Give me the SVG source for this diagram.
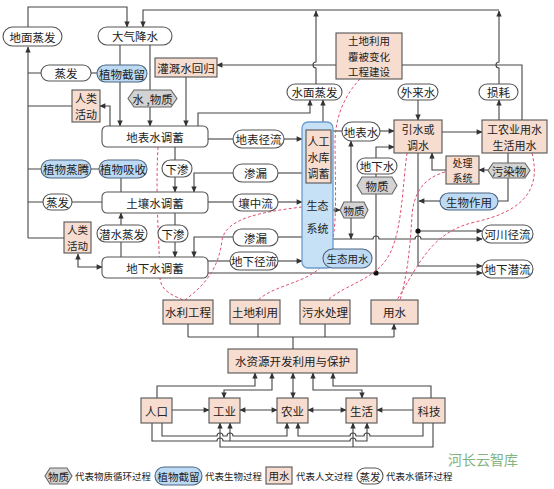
<svg xmlns="http://www.w3.org/2000/svg" width="554" height="489" viewBox="0 0 554 489">
<defs>
<marker id="a" viewBox="0 0 10 10" refX="9" refY="5" markerWidth="7" markerHeight="6" markerUnits="userSpaceOnUse" orient="auto-start-reverse"><path d="M0,0.5 L10,5 L0,9.5 z" fill="#333"/></marker>
<style>
.n{fill:#fff;stroke:#555;stroke-width:1.1}
.p{fill:#f7dcd0;stroke:#555;stroke-width:1.1}
.b{fill:#bcdaf3;stroke:#4d6580;stroke-width:1.1}
.g{fill:#d3d3d3;stroke:#666;stroke-width:1.1}
.c{fill:#c6e0f6;stroke:#6d9ccc;stroke-width:1.3}
text{font-family:"Noto Sans CJK SC","Noto Sans",sans-serif;font-size:11.5px;fill:#222;text-anchor:middle;dominant-baseline:central}
.m{font-size:11px}
.t{font-size:10.5px}
.u{font-size:10px}
.l{font-size:9.5px;text-anchor:start}
.k{font-size:10.5px}
#conn path{fill:none;stroke:#444;stroke-width:1.1}
#conn .e{marker-end:url(#a)}
#conn .s{marker-start:url(#a)}
#red path{fill:none;stroke:#e0506e;stroke-width:1;stroke-dasharray:3 2.2}
</style>
</defs>
<rect width="554" height="489" fill="#fff"/>
<g id="conn">
<path class="e" d="M28,27 V7 H127 V27"/>
<path class="e" d="M499,10 H143 V27"/>
<path class="e" d="M316,84 V68 A3,3 0 0 1 316,62 V11"/>
<path class="e" d="M499,84 V68 A3,3 0 0 1 499,62 V11"/>
<path class="e" d="M28,238 V47"/>
<path d="M28,73 H41 M28,106 H72 M28,169 H41 M28,202 H43 M28,238 H64"/>
<path d="M91,73 H97"/>
<path class="e" d="M120,45 V126"/>
<path class="e" d="M150,45 V126"/>
<path class="e" d="M186,77 V126"/>
<path class="e" d="M522,120 V65 H217"/>
<path class="e" d="M110,126 V106 H100"/>
<path class="e" d="M198,126 V113 H310 V100"/>
<path class="e" d="M323,122 V100"/>
<path d="M208,139 H233"/>
<path class="e" d="M284,139 H302"/>
<path class="e" d="M175,147 V192"/>
<path d="M302,173 H278"/>
<path class="e" d="M233,173 H194 V192"/>
<path d="M91,169 H99 M121,178 V192 M72,202 H102"/>
<path d="M208,202 H233"/>
<path class="e" d="M278,202 H302"/>
<path class="e" d="M175,213 V257"/>
<path class="e" d="M121,257 V213"/>
<path d="M302,237 H278"/>
<path class="e" d="M233,237 H194 V257"/>
<path class="e s" d="M78,254 V267 H102"/>
<path d="M208,261 H230"/>
<path class="e" d="M278,261 H302"/>
<path class="e" d="M208,273 H482"/>
<path class="e" d="M376,273 V147 H394"/>
<path d="M333,131 H342"/>
<path class="e" d="M380,131 H394"/>
<path class="e" d="M418,100 V120"/>
<path class="e" d="M442,132 H482"/>
<path class="e" d="M499,120 V100"/>
<path d="M508,153 V163"/>
<path class="e" d="M488,170 H479"/>
<path class="e" d="M446,170 H432 V153"/>
<path d="M508,178 V201 H498"/>
<path class="e" d="M440,201 H419"/>
<path class="e" d="M418,153 V266 H482"/>
<path class="e" d="M418,231 H482"/>
<path class="e" d="M333,239 H373 A3,3 0 0 1 379,239 H415 A3,3 0 0 1 421,239 H482"/>
<path class="e" d="M333,210 H340"/>
<path class="e" d="M351,202 V141"/>
<path class="e" d="M351,218 V239"/>
<path d="M293,349 V337 M188,337 H394"/>
<path class="e" d="M188,337 V324 M258,337 V324 M325,337 V324 M394,337 V324"/>
<path class="e" d="M157,398 V386 H255 V373"/>
<path class="e s" d="M272,373 V390 H224 V398"/>
<path class="e s" d="M293,373 V398"/>
<path class="e s" d="M313,373 V390 H362 V398"/>
<path class="e" d="M431,398 V386 H333 V373"/>
<path class="e" d="M172,410 H209"/>
<path class="e s" d="M240,410 H277"/>
<path class="e s" d="M308,410 H346"/>
<path class="e" d="M413,410 H377"/>
<path class="e" d="M162,423 V436 H217 A3,3 0 0 1 223,436 H227 A3,3 0 0 1 233,436 H287 V423"/>
<path class="e" d="M423,423 V436 H370 A3,3 0 0 0 364,436 H356 A3,3 0 0 0 350,436 H298 V423"/>
<path class="e" d="M152,423 V441 H217 A3,3 0 0 1 223,441 H350 A3,3 0 0 1 356,441 H367 V423"/>
<path class="e" d="M230,441 V423"/>
<path class="e" d="M433,423 V447 H220 V423"/>
<path class="e" d="M353,447 V423"/>
</g>
<g id="dots" fill="#111"><circle cx="376" cy="273" r="2.6"/><circle cx="418" cy="231" r="2.6"/></g>
<g id="red">
<path d="M158,147 C155,200 160,255 160,278 C161,292 175,296 183,300"/>
<path d="M302,207 C262,212 226,218 222,240 C219,268 205,285 185,300"/>
<path d="M360,79 C345,95 336,115 335,140 C335,200 340,250 320,268 C302,284 275,285 258,300"/>
<path d="M407,153 C402,190 402,238 386,260 C372,280 345,285 328,300"/>
<path d="M445,172 C424,178 414,192 412,215 C410,250 407,276 400,300"/>
<path d="M532,153 C542,192 520,212 475,222 C432,232 420,262 397,300"/>
</g>
<g id="n-dimianzhengfa"><rect class="n" x="3" y="27" width="59" height="19" rx="9.5"/><text x="32.5" y="36.5">地面蒸发</text></g>
<g id="n-daqijiangshui"><rect class="n" x="98" y="27" width="74" height="18" rx="9"/><text x="135" y="36">大气降水</text></g>
<g id="n-zhengfa1"><rect class="n" x="41" y="65" width="50" height="16" rx="8"/><text x="66" y="73">蒸发</text></g>
<g id="n-zhiwujieliu"><rect class="b" x="97" y="65" width="50" height="17" rx="8.5"/><text x="122" y="73.5">植物截留</text></g>
<g id="n-guangai"><rect class="p" x="155" y="58" width="62" height="19"/><text x="186" y="67.5">灌溉水回归</text></g>
<g id="n-renlei1"><rect class="p" x="72" y="90" width="28" height="32"/><text class="m" x="86" y="98">人类</text><text class="m" x="86" y="114">活动</text></g>
<g id="n-shuiwuzhi"><polygon class="g" points="134,90 171,90 177,98.5 171,107 134,107 128,98.5"/><text x="152.5" y="98.5">水 ,物质</text></g>
<g id="n-dibiaoshui"><rect class="n" x="102" y="126" width="106" height="21" rx="5"/><text x="155" y="136.5">地表水调蓄</text></g>
<g id="n-dibiaojingliu"><rect class="n" x="233" y="130" width="51" height="18" rx="9"/><text x="258.5" y="139">地表径流</text></g>
<g id="n-shengtai"><rect class="c" x="302" y="122" width="31" height="146" rx="6"/><text class="m" x="317.5" y="205" fill="#444">生态</text><text class="m" x="317.5" y="228" fill="#444">系统</text></g>
<g id="n-rengong"><rect class="p" x="306" y="130" width="25" height="53"/><text class="m" x="318.5" y="140.5">人工</text><text class="m" x="318.5" y="156.5">水库</text><text class="m" x="318.5" y="172.5">调蓄</text></g>
<g id="n-shengtaiyongshui"><rect class="b" x="323" y="249" width="49" height="19" rx="9.5"/><text x="347.5" y="258.5" class="k">生态用水</text></g>
<g id="n-shuimian"><rect class="n" x="287" y="84" width="55" height="16" rx="8"/><text x="314.5" y="92">水面蒸发</text></g>
<g id="n-tudi"><rect class="p" x="336" y="33" width="66" height="46"/><text class="t" x="369" y="40.7">土地利用</text><text class="t" x="369" y="56">覆被变化</text><text class="t" x="369" y="71.3">工程建设</text></g>
<g id="n-wailai"><rect class="n" x="398" y="84" width="40" height="16" rx="8"/><text x="418" y="92">外来水</text></g>
<g id="n-sunhao"><rect class="n" x="479" y="84" width="39" height="16" rx="8"/><text x="498.5" y="92">损耗</text></g>
<g id="n-dibiaoshui2"><rect class="n" x="342" y="122" width="38" height="19" rx="9.5"/><text x="361" y="131.5">地表水</text></g>
<g id="n-yinshui"><rect class="p" x="394" y="120" width="48" height="33"/><text class="m" x="418" y="128.5">引水或</text><text class="m" x="418" y="144.5">调水</text></g>
<g id="n-gongnongye"><rect class="p" x="482" y="120" width="65" height="33"/><text class="m" x="514.5" y="128.5">工农业用水</text><text class="m" x="514.5" y="144.5">生活用水</text></g>
<g id="n-dixiashui"><rect class="n" x="357" y="158" width="40" height="16" rx="8"/><text x="377" y="166">地下水</text></g>
<g id="n-wuzhi-r"><polygon class="g" points="362,177 392,177 397,185.5 392,194 362,194 357,185.5"/><text x="377" y="185.5">物质</text></g>
<g id="n-chuli"><rect class="p" x="446" y="156" width="33" height="28"/><text class="u" x="462.5" y="162.75">处理</text><text class="u" x="462.5" y="177.25">系统</text></g>
<g id="n-wuranwu"><polygon class="g" points="493,163 525,163 530,170.5 525,178 493,178 488,170.5"/><text x="509" y="170.5">污染物</text></g>
<g id="n-wuzhi-m"><polygon class="g" points="344,202 364,202 368,210 364,218 344,218 340,210"/><text x="354" y="210" class="k">物质</text></g>
<g id="n-shengwu"><rect class="b" x="440" y="193" width="58" height="17" rx="8.5"/><text x="469" y="201.5">生物作用</text></g>
<g id="n-hechuan"><rect class="n" x="482" y="225" width="51" height="18" rx="9"/><text x="507.5" y="234">河川径流</text></g>
<g id="n-dixiaqianliu"><rect class="n" x="482" y="260" width="51" height="18" rx="9"/><text x="507.5" y="269">地下潜流</text></g>
<g id="n-zhengteng"><rect class="b" x="41" y="160" width="50" height="18" rx="9"/><text x="66" y="169">植物蒸腾</text></g>
<g id="n-xishou"><rect class="b" x="99" y="160" width="48" height="18" rx="9"/><text x="123" y="169">植物吸收</text></g>
<g id="n-xiashen1"><rect class="n" x="162" y="160" width="30" height="17" rx="8.5"/><text x="177" y="168.5">下渗</text></g>
<g id="n-shenlou1"><rect class="n" x="233" y="164" width="45" height="18" rx="9"/><text x="255.5" y="173">渗漏</text></g>
<g id="n-turang"><rect class="n" x="102" y="192" width="106" height="21" rx="5"/><text x="155" y="202.5">土壤水调蓄</text></g>
<g id="n-zhengfa2"><rect class="n" x="43" y="194" width="29" height="16" rx="8"/><text x="57.5" y="202">蒸发</text></g>
<g id="n-rangzhong"><rect class="n" x="233" y="194" width="45" height="17" rx="8.5"/><text x="255.5" y="202.5">壤中流</text></g>
<g id="n-renlei2"><rect class="p" x="64" y="222" width="27" height="31"/><text class="t" x="77.5" y="229.9">人类</text><text class="t" x="77.5" y="245.1">活动</text></g>
<g id="n-qianshui"><rect class="n" x="97" y="225" width="50" height="17" rx="8.5"/><text x="122" y="233.5">潜水蒸发</text></g>
<g id="n-xiashen2"><rect class="n" x="158" y="225" width="30" height="17" rx="8.5"/><text x="173" y="233.5">下渗</text></g>
<g id="n-shenlou2"><rect class="n" x="233" y="229" width="45" height="17" rx="8.5"/><text x="255.5" y="237.5">渗漏</text></g>
<g id="n-dixiatiaoxu"><rect class="n" x="102" y="257" width="106" height="21" rx="5"/><text x="155" y="267.5">地下水调蓄</text></g>
<g id="n-dixiajingliu"><rect class="n" x="230" y="252" width="48" height="18" rx="9"/><text x="254" y="261">地下径流</text></g>
<g id="n-shuili"><rect class="p" x="163" y="300" width="50" height="24"/><text x="188" y="312">水利工程</text></g>
<g id="n-tudiliyong"><rect class="p" x="230" y="300" width="50" height="24"/><text x="255" y="312">土地利用</text></g>
<g id="n-wushui"><rect class="p" x="300" y="300" width="50" height="24"/><text x="325" y="312">污水处理</text></g>
<g id="n-yongshui"><rect class="p" x="371" y="300" width="47" height="24"/><text x="394.5" y="312">用水</text></g>
<g id="n-shuiziyuan"><rect class="p" x="228" y="349" width="129" height="24"/><text x="292.5" y="361">水资源开发利用与保护</text></g>
<g id="n-renkou"><rect class="p" x="141" y="398" width="31" height="25"/><text x="156.5" y="410.5">人口</text></g>
<g id="n-gongye"><rect class="p" x="209" y="398" width="31" height="25"/><text x="224.5" y="410.5">工业</text></g>
<g id="n-nongye"><rect class="p" x="277" y="398" width="31" height="25"/><text x="292.5" y="410.5">农业</text></g>
<g id="n-shenghuo"><rect class="p" x="346" y="398" width="31" height="25"/><text x="361.5" y="410.5">生活</text></g>
<g id="n-keji"><rect class="p" x="413" y="398" width="32" height="25"/><text x="429" y="410.5">科技</text></g>
<g id="legend">
<polygon class="g" points="50,468 67,468 72,476 67,484 50,484 45,476"/><text x="58.5" y="476" class="k">物质</text>
<text x="75" y="476" class="l">代表物质循环过程</text>
<rect class="b" x="155" y="467" width="47" height="18" rx="9"/><text x="178.5" y="476" class="k">植物截留</text>
<text x="205" y="476" class="l">代表生物过程</text>
<rect class="p" x="266" y="467" width="26" height="17"/><text x="279" y="475.5" class="k">用水</text>
<text x="296" y="476" class="l">代表人文过程</text>
<rect class="n" x="357" y="468" width="26" height="16" rx="8"/><text x="370" y="476" class="k">蒸发</text>
<text x="386" y="476" class="l">代表水循环过程</text>
</g>
<text x="483" y="459" style="font-size:14px;fill:#6aa86a;opacity:0.85">河长云智库</text>
</svg>
